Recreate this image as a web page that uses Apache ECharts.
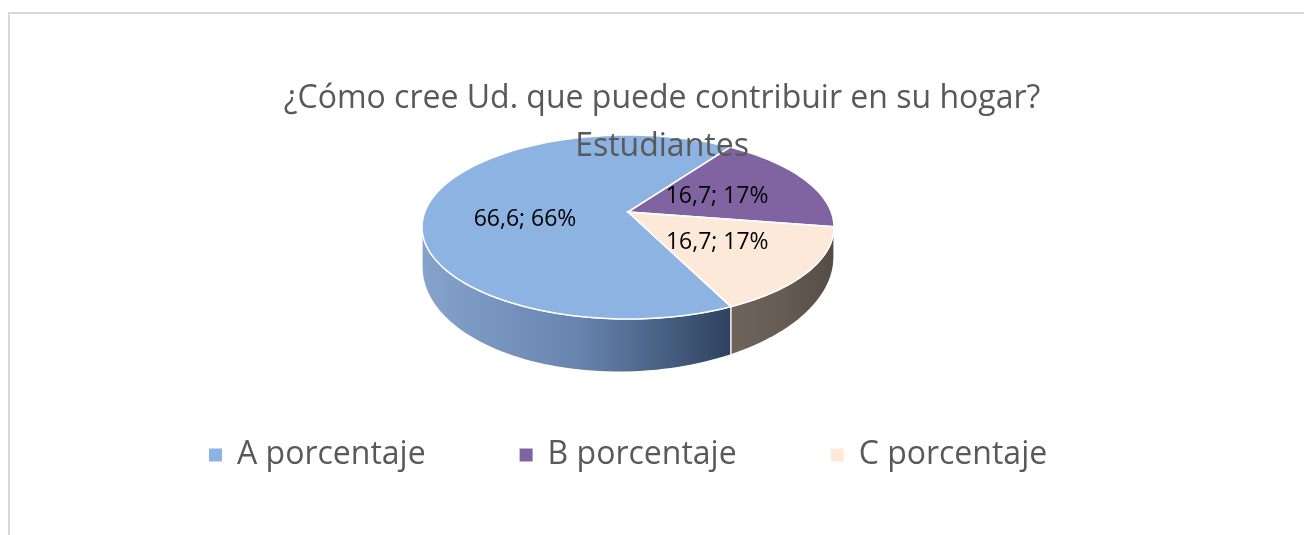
<!DOCTYPE html>
<html>
<head>
<meta charset="utf-8">
<script src="https://cdn.jsdelivr.net/npm/echarts@6/dist/echarts.min.js"></script>
<style>
  html, body { margin: 0; padding: 0; background: #ffffff; }
  #chart { width: 1304px; height: 535px; }
</style>
</head>
<body>
<div id="chart"></div>
<script>
// ---- data ----
const titleLines = ['¿Cómo cree Ud. que puede contribuir en su hogar?', 'Estudiantes'];
const categories = ['A porcentaje', 'B porcentaje', 'C porcentaje'];
const values = [66.6, 16.7, 16.7];
const labelTexts = ['66,6; 66%', '16,7; 17%', '16,7; 17%'];

// ---- styles / layout ----
const topColors = ['#8db3e2', '#8064a2', '#fde9d9'];
const sideColors = [
  ['#86a3cc', '#6885b0', '#2e425f'],
  ['#5e4a7a', '#4d3c66', '#3d2f52'],
  ['#6e645c', '#655c54', '#544c46']
];
const FONT = 'Open Sans';
const CX = 628, CY = 227, RX = 206, RY = 92;
const APEX_DY = -15;
const START = 150; // degrees, clockwise from 12 o'clock
const total = values.reduce((a, b) => a + b, 0);

const angles = [];
(function () {
  let acc = START;
  values.forEach(v => {
    const span = v / total * 360;
    angles.push([acc, acc + span]);
    acc += span;
  });
})();

function pt(theta) {
  const r = theta * Math.PI / 180;
  return [CX + RX * Math.sin(r), CY - RY * Math.cos(r)];
}
function thick(theta) {
  const r = theta * Math.PI / 180;
  return 35 + 18 * Math.max(0, -Math.cos(r)) - 5 * Math.sin(r);
}

function renderItem(params, api) {
  const i = params.dataIndex;
  const [a0, a1] = angles[i];
  const children = [];
  const apex = [CX, CY + APEX_DY];

  // side (front visible half: 90..270 deg, possibly wrapped)
  for (const off of [0, 360, -360]) {
    const s = Math.max(a0, 90 + off), e = Math.min(a1, 270 + off);
    if (e - s > 0.01) {
      const topPts = [], botPts = [];
      const n = Math.max(4, Math.ceil((e - s) / 2));
      for (let k = 0; k <= n; k++) {
        const t = s + (e - s) * k / n;
        const p = pt(t);
        topPts.push(p);
        botPts.push([p[0], p[1] + thick(t)]);
      }
      const poly = topPts.concat(botPts.reverse());
      const sc = sideColors[i];
      children.push({
        type: 'polygon',
        z2: 1,
        shape: { points: poly },
        style: {
          fill: {
            type: 'linear', x: 0, y: 0, x2: 1, y2: 0,
            colorStops: [
              { offset: 0, color: sc[0] },
              { offset: 0.5, color: sc[1] },
              { offset: 1, color: sc[2] }
            ]
          },
          stroke: '#ffffff',
          lineWidth: 1.2
        }
      });
    }
  }

  // top face
  const tp = [apex];
  const n = Math.max(4, Math.ceil((a1 - a0) / 2));
  for (let k = 0; k <= n; k++) tp.push(pt(a0 + (a1 - a0) * k / n));
  children.push({
    type: 'polygon',
    z2: 5,
    shape: { points: tp },
    style: { fill: topColors[i], stroke: '#ffffff', lineWidth: 1.5 }
  });

  // label
  const mid = (a0 + a1) / 2;
  const mp = pt(mid);
  const f = 0.5;
  children.push({
    type: 'text',
    z2: 10,
    style: {
      text: labelTexts[i],
      x: apex[0] + (mp[0] - apex[0]) * f,
      y: apex[1] + (mp[1] - apex[1]) * f,
      align: 'center',
      verticalAlign: 'middle',
      fontSize: 23,
      fontFamily: FONT,
      fill: '#000000'
    }
  });

  return { type: 'group', children: children };
}

const chart = echarts.init(document.getElementById('chart'), null, { renderer: 'canvas' });
chart.setOption({
  backgroundColor: '#ffffff',
  animation: false,
  title: {
    text: titleLines.join('\n'),
    left: 657,
    top: 70,
    textAlign: 'center',
    textStyle: { fontSize: 32, lineHeight: 48, color: '#595959', fontWeight: 'normal', fontFamily: FONT }
  },
  legend: {
    left: 204,
    top: 434,
    icon: 'rect',
    itemWidth: 13,
    itemHeight: 13,
    itemGap: 94,
    selectedMode: false,
    data: categories,
    textStyle: { fontSize: 32, color: '#595959', fontFamily: FONT, padding: [0, 0, 10, 10] }
  },
  graphic: [{
    type: 'rect',
    shape: { x: 9, y: 13, width: 1400, height: 600 },
    style: { fill: 'none', stroke: '#d9d9d9', lineWidth: 2 },
    silent: true
  }],
  series: [
    {
      type: 'pie',
      radius: [0, 0],
      silent: true,
      label: { show: false },
      labelLine: { show: false },
      data: categories.map((c, i) => ({ name: c, value: values[i], itemStyle: { color: topColors[i] } }))
    },
    {
      type: 'custom',
      coordinateSystem: 'none',
      silent: true,
      renderItem: renderItem,
      data: values.map((v, i) => ({ name: categories[i], value: v }))
    }
  ]
});
</script>
</body>
</html>
